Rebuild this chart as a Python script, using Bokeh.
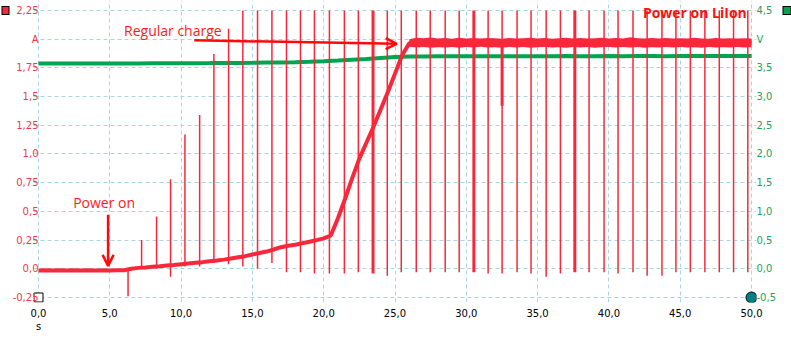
from bokeh.plotting import figure
from bokeh.models import Range1d, LinearAxis, FixedTicker, Label, Arrow, OpenHead
from bokeh.embed import file_html
from bokeh.resources import INLINE

# ---------------- data ----------------
time_s = [0.0, 0.5, 1.0, 1.5, 2.0, 2.5, 3.0, 3.5, 4.0, 4.5,
          5.0, 5.5, 6.0, 6.5, 7.0, 7.5, 8.0, 8.5, 9.0, 9.5,
          10.0, 10.5, 11.0, 11.5, 12.0, 12.5, 13.0, 13.5, 14.0, 14.5,
          15.0, 15.5, 16.0, 16.5, 17.0, 17.5, 18.0, 18.5, 19.0, 19.5,
          20.0, 20.5, 21.0, 21.5, 22.0, 22.5, 23.0, 23.5, 24.0, 24.5,
          25.0, 25.5, 26.0, 26.5, 27.0, 27.5, 28.0, 28.5, 29.0, 29.5,
          30.0, 30.5, 31.0, 31.5, 32.0, 32.5, 33.0, 33.5, 34.0, 34.5,
          35.0, 35.5, 36.0, 36.5, 37.0, 37.5, 38.0, 38.5, 39.0, 39.5,
          40.0, 40.5, 41.0, 41.5, 42.0, 42.5, 43.0, 43.5, 44.0, 44.5,
          45.0, 45.5, 46.0, 46.5, 47.0, 47.5, 48.0, 48.5, 49.0, 49.5, 50.0]
current_a = [-0.015, -0.012, -0.015, -0.013, -0.015, -0.012, -0.014, -0.013, -0.015, -0.012,
             -0.014, -0.013, -0.012, 0.000, 0.008, 0.012, 0.018, 0.022, 0.028, 0.033,
             0.040, 0.046, 0.052, 0.058, 0.065, 0.072, 0.080, 0.090, 0.100, 0.110,
             0.125, 0.137, 0.150, 0.168, 0.188, 0.200, 0.210, 0.222, 0.235, 0.250,
             0.265, 0.290, 0.440, 0.610, 0.790, 0.960, 1.100, 1.240, 1.390, 1.540,
             1.700, 1.860, 1.965, 1.970, 1.968, 1.970, 1.966, 1.970, 1.968, 1.972,
             1.966, 1.970, 1.968, 1.970, 1.968, 1.966, 1.970, 1.968, 1.970, 1.968,
             1.966, 1.970, 1.968, 1.966, 1.968, 1.970, 1.966, 1.970, 1.968, 1.966,
             1.968, 1.970, 1.966, 1.972, 1.968, 1.966, 1.970, 1.968, 1.970, 1.968,
             1.966, 1.968, 1.970, 1.966, 1.968, 1.970, 1.968, 1.966, 1.968, 1.966, 1.968]

# noise envelope of the current once it is regulated
band_t = [26.0, 26.5, 27.0, 27.5, 28.0, 28.5, 29.0, 29.5, 30.0, 30.5, 31.0, 31.5,
          32.0, 32.5, 33.0, 33.5, 34.0, 34.5, 35.0, 35.5, 36.0, 36.5, 37.0, 37.5,
          38.0, 38.5, 39.0, 39.5, 40.0, 40.5, 41.0, 41.5, 42.0, 42.5, 43.0, 43.5,
          44.0, 44.5, 45.0, 45.5, 46.0, 46.5, 47.0, 47.5, 48.0, 48.5, 49.0, 49.5, 50.0]
band_top = [2.000, 2.012, 2.008, 2.015, 2.006, 2.010, 2.004, 2.012, 2.007, 2.011, 2.005, 2.010,
            2.008, 2.004, 2.011, 2.006, 2.009, 2.013, 2.006, 2.010, 2.004, 2.008, 2.012, 2.006,
            2.010, 2.005, 2.009, 2.013, 2.007, 2.011, 2.005, 2.016, 2.008, 2.006, 2.011, 2.007,
            2.010, 2.005, 2.009, 2.006, 2.012, 2.007, 2.004, 2.010, 2.006, 2.009, 2.005, 2.008, 2.006]
band_bot = [1.935, 1.928, 1.932, 1.925, 1.930, 1.927, 1.933, 1.926, 1.931, 1.928, 1.934, 1.927,
            1.930, 1.926, 1.932, 1.928, 1.931, 1.925, 1.930, 1.933, 1.927, 1.930, 1.926, 1.932,
            1.928, 1.931, 1.926, 1.930, 1.933, 1.927, 1.931, 1.928, 1.932, 1.926, 1.930, 1.928,
            1.931, 1.927, 1.933, 1.928, 1.930, 1.926, 1.932, 1.928, 1.930, 1.927, 1.931, 1.928, 1.930]

volt_t = [0, 1, 2, 3, 4, 5, 6, 7, 8, 9, 10, 11, 12, 13, 14, 15, 16, 17, 18, 19, 20,
          21, 22, 23, 24, 25, 26, 27, 28, 29, 30, 31, 32, 33, 34, 35, 36, 37, 38, 39, 40,
          41, 42, 43, 44, 45, 46, 47, 48, 49, 50]
voltage_v = [3.575, 3.578, 3.576, 3.577, 3.578, 3.576, 3.577, 3.578, 3.579, 3.580,
             3.581, 3.582, 3.583, 3.585, 3.587, 3.589, 3.592, 3.595, 3.600, 3.607,
             3.615, 3.628, 3.642, 3.656, 3.672, 3.688, 3.697, 3.700, 3.702, 3.701,
             3.703, 3.702, 3.704, 3.703, 3.702, 3.704, 3.703, 3.705, 3.704, 3.703,
             3.705, 3.704, 3.706, 3.705, 3.704, 3.706, 3.705, 3.706, 3.705, 3.706, 3.706]

spike_t = [6.28, 7.23, 8.28, 9.26, 10.27, 11.30, 12.30, 13.33, 14.33, 15.36, 16.37, 17.39,
           18.37, 19.35, 20.40, 21.45, 22.43, 23.46, 24.46, 25.44, 26.49, 27.47, 28.52,
           29.50, 30.53, 31.53, 32.51, 33.56, 34.54, 35.60, 36.60, 37.61, 38.61, 39.66,
           40.64, 41.69, 42.68, 43.72, 44.70, 45.71, 46.73, 47.74, 48.74, 49.74]
spike_lo = [-0.24, 0.01, 0.00, -0.07, 0.02, 0.02, 0.05, 0.04, 0.02, 0.00, 0.05, -0.03,
            -0.03, -0.04, -0.04, -0.04, -0.03, -0.04, -0.06, -0.03, -0.03, -0.03, -0.03,
            -0.03, -0.03, -0.04, -0.04, -0.03, -0.04, -0.07, -0.04, -0.03, -0.03, -0.03,
            -0.04, -0.03, -0.06, -0.06, -0.03, -0.03, -0.03, -0.03, -0.03, -0.03]
spike_hi = [-0.01, 0.25, 0.455, 0.78, 1.17, 1.34, 1.87, 2.09, 2.25, 2.25, 2.25, 2.25,
            2.25, 2.25, 2.25, 2.25, 2.25, 2.25, 2.25, 2.25, 2.25, 2.25, 2.25,
            2.25, 2.25, 2.25, 2.25, 2.25, 2.25, 2.25, 2.25, 2.25, 2.25, 2.25,
            2.25, 2.25, 2.25, 2.25, 2.25, 2.25, 2.25, 2.25, 2.25, 2.25]
spike_w = [1.5, 1.5, 1.5, 1.5, 1.5, 1.5, 1.5, 1.5, 1.5, 1.5, 1.5, 1.5,
           1.5, 1.5, 1.5, 1.5, 1.5, 3.0, 1.5, 1.5, 1.5, 1.5, 1.5,
           1.5, 3.0, 1.5, 1.5, 1.5, 1.5, 1.5, 1.5, 3.0, 1.5, 1.5,
           1.5, 1.5, 1.5, 1.5, 1.5, 1.5, 1.5, 1.5, 1.5, 1.5]

dip_t = [32.51]
dip_lo = [1.42]
dip_hi = [1.96]

x_ticks = [0, 5, 10, 15, 20, 25, 30, 35, 40, 45, 50]
x_labels = ["0,0\ns", "5,0", "10,0", "15,0", "20,0", "25,0", "30,0", "35,0", "40,0", "45,0", "50,0"]
a_ticks = [-0.25, 0.0, 0.25, 0.5, 0.75, 1.0, 1.25, 1.5, 1.75, 2.0, 2.25]
a_labels = ["-0,25", "0,0", "0,25", "0,5", "0,75", "1,0", "1,25", "1,5", "1,75", "A", "2,25"]
v_ticks = [-0.5, 0.0, 0.5, 1.0, 1.5, 2.0, 2.5, 3.0, 3.5, 4.0, 4.5]
v_labels = ["-0,5", "0,0", "0,5", "1,0", "1,5", "2,0", "2,5", "3,0", "3,5", "V", "4,5"]

title_text = "Power on LiIon"
note_texts = ["Regular charge", "Power on"]
note_x = [6.0, 2.43]
note_y = [2.075, 0.578]
arrow_x0 = [10.92, 4.88]
arrow_y0 = [1.99, 0.47]
arrow_x1 = [25.12, 4.88]
arrow_y1 = [1.96, 0.025]

# ---------------- styling ----------------
RED = "#f8283a"
GREEN = "#00a550"
GRID = "#a9d6e2"
TICK_FONT = "DejaVu Sans"

p = figure(width=791, height=338, output_backend="svg", toolbar_location=None,
           x_range=Range1d(-0.35, 50.35), y_range=Range1d(-0.2936, 2.337),
           min_border_left=33, min_border_right=34, min_border_top=0, min_border_bottom=36,
           background_fill_color="white", border_fill_color="white")
p.outline_line_color = None
p.extra_y_ranges = {"volt": Range1d(-0.5872, 4.674)}

p.xaxis.ticker = FixedTicker(ticks=x_ticks)
p.xaxis.major_label_overrides = dict(zip(x_ticks, x_labels))
p.yaxis.ticker = FixedTicker(ticks=a_ticks)
p.yaxis.major_label_overrides = dict(zip(a_ticks, a_labels))

vaxis = LinearAxis(y_range_name="volt", ticker=FixedTicker(ticks=v_ticks),
                   major_label_overrides=dict(zip(v_ticks, v_labels)))
p.add_layout(vaxis, "right")

for ax, col in ((p.xaxis[0], "black"), (p.yaxis[0], "#ec3b45"), (vaxis, "#1ba35c")):
    ax.axis_line_color = None
    ax.major_tick_line_color = None
    ax.minor_tick_line_color = None
    ax.major_tick_out = 0
    ax.major_tick_in = 0
    ax.major_label_text_font = TICK_FONT
    ax.major_label_text_font_size = "10px"
    ax.major_label_text_color = col
p.xaxis.major_label_standoff = 5
p.yaxis.major_label_standoff = -5
vaxis.major_label_standoff = 0

# legend squares (series colour keys) drawn as axis ticks beside the top labels
for side, col, rng, t_in, t_out in (("left", RED, "default", 0, 8), ("right", GREEN, "volt", -3, 12)):
    top = a_ticks[-1] if side == "left" else v_ticks[-1]
    key = LinearAxis(y_range_name=rng, ticker=FixedTicker(ticks=[top], minor_ticks=[top]),
                     major_label_overrides={top: ""}, axis_line_color=None,
                     major_tick_line_color="black", major_tick_line_width=9,
                     major_tick_in=t_in, major_tick_out=t_out,
                     minor_tick_line_color=col, minor_tick_line_width=7,
                     minor_tick_in=t_in - 1, minor_tick_out=t_out - 1,
                     major_label_standoff=0, major_label_text_font_size="1px")
    p.add_layout(key, side)

for g in (p.xgrid[0], p.ygrid[0]):
    g.grid_line_color = GRID
    g.grid_line_dash = "4 3"
    g.grid_line_width = 1

# voltage
p.line(volt_t, voltage_v, y_range_name="volt", line_color=GREEN, line_width=4)

# current
p.varea(x=band_t, y1=band_bot, y2=band_top, fill_color=RED)
p.line(time_s, current_a, line_color=RED, line_width=4)
p.segment(x0=spike_t, y0=spike_lo, x1=spike_t, y1=spike_hi, line_color=RED, line_width=spike_w)
p.segment(x0=dip_t, y0=dip_lo, x1=dip_t, y1=dip_hi, line_color=RED, line_width=3)

# corner markers
p.scatter([x_ticks[0]], [a_ticks[0]], marker="square", size=9, fill_color="white", line_color="black")
p.scatter([x_ticks[-1]], [a_ticks[0]], marker="circle", size=11, fill_color="#008080", line_color="black")

# annotations
for i in range(2):
    p.add_layout(Arrow(x_start=arrow_x0[i], y_start=arrow_y0[i], x_end=arrow_x1[i], y_end=arrow_y1[i],
                       line_color="#ff0a0a", line_width=2.5,
                       end=OpenHead(size=11, line_color="#ff0a0a", line_width=2.5)))
    p.add_layout(Label(x=note_x[i], y=note_y[i], text=note_texts[i], text_align="left",
                       text_baseline="middle", text_font="Open Sans", text_font_size="14px",
                       text_color="#ff1a1a"))

p.add_layout(Label(x=49.67, y=2.233, text=title_text, text_align="right", text_baseline="middle",
                   text_font="Open Sans", text_font_style="bold", text_font_size="14px",
                   text_color="#ff1010"))

open("out.html", "w").write(file_html(p, INLINE))
